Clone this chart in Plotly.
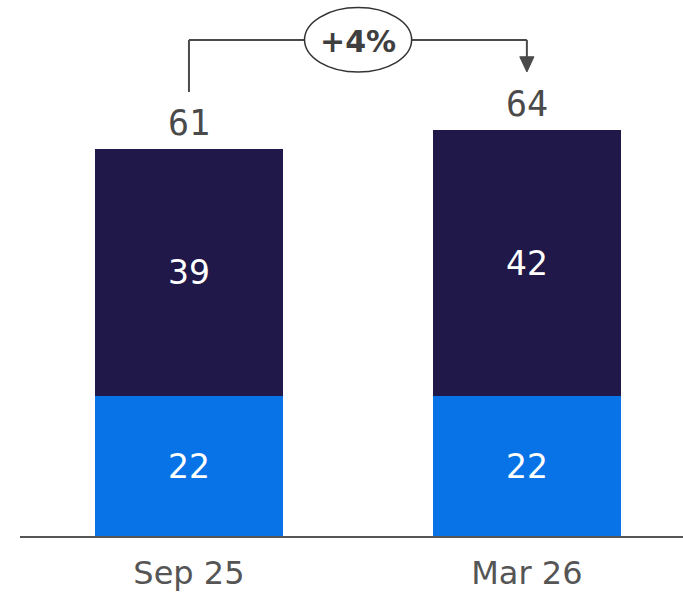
import plotly.graph_objects as go

categories = ["Sep 25", "Mar 26"]
lower_values = [22, 22]
upper_values = [39, 42]
totals = [61, 64]
change_label = "+4%"

navy = "#1F1848"
blue = "#0873E6"
gray = "#4A4A4A"

fig = go.Figure()
fig.add_trace(go.Bar(
    x=categories, y=lower_values, marker=dict(color=blue, line=dict(width=0)),
    text=[str(v) for v in lower_values], textposition="inside", insidetextanchor="middle",
    textangle=0, textfont=dict(family="DejaVu Sans", size=33, color="white"),
    width=0.5547, hoverinfo="skip", cliponaxis=False,
))
fig.add_trace(go.Bar(
    x=categories, y=upper_values, marker=dict(color=navy, line=dict(width=0)),
    text=[str(v) for v in upper_values], textposition="inside", insidetextanchor="middle",
    textangle=0, textfont=dict(family="DejaVu Sans", size=33, color="white"),
    width=0.5547, hoverinfo="skip", cliponaxis=False,
))

for i, t in enumerate(totals):
    fig.add_annotation(x=i, y=t, xref="x", yref="y", text=str(t), showarrow=False,
                       yanchor="bottom", yshift=4,
                       font=dict(family="DejaVu Sans Mono", size=35, color=gray))

# change bracket
bracket_y = max(totals) + 14.2
left_bottom = totals[0] + 9
arrow_tip = totals[1] + 9.15
ell_x0, ell_x1 = 0.342, 0.659
ell_y0, ell_y1 = arrow_tip, bracket_y + 5.1
line = dict(color=gray, width=2)
fig.add_shape(type="line", xref="x", yref="y", x0=0, x1=0, y0=left_bottom, y1=bracket_y, line=line)
fig.add_shape(type="line", xref="x", yref="y", x0=0, x1=ell_x0, y0=bracket_y, y1=bracket_y, line=line)
fig.add_shape(type="line", xref="x", yref="y", x0=ell_x1, x1=1, y0=bracket_y, y1=bracket_y, line=line)
fig.add_shape(type="line", xref="x", yref="y", x0=1, x1=1, y0=bracket_y, y1=arrow_tip + 2, line=line)
fig.add_shape(type="path", xref="x", yref="y",
              path=f"M {1-0.021},{arrow_tip+2.4} L {1+0.021},{arrow_tip+2.4} L 1,{arrow_tip} Z",
              fillcolor=gray, line=dict(color=gray, width=1))
fig.add_shape(type="circle", xref="x", yref="y", x0=ell_x0, x1=ell_x1, y0=ell_y0, y1=ell_y1,
              fillcolor="white", line=dict(color="#333333", width=1.5))
fig.add_annotation(x=0.5, y=(ell_y0 + ell_y1) / 2 - 0.3, xref="x", yref="y", text=f"<b>{change_label}</b>",
                   showarrow=False, font=dict(family="DejaVu Sans", size=30, color="#3F3F3F"))

fig.update_layout(
    barmode="stack", width=683, height=593,
    margin=dict(l=20, r=0, t=0, b=57),
    paper_bgcolor="white", plot_bgcolor="white", showlegend=False,
    xaxis=dict(range=[-0.5, 1.462], showline=True, linecolor="#555555", linewidth=2,
               showgrid=False, zeroline=False, ticks="outside", ticklen=8,
               tickcolor="rgba(0,0,0,0)",
               tickfont=dict(family="DejaVu Sans", size=32, color="#555555")),
    yaxis=dict(range=[0, 84.5], visible=False, showgrid=False, zeroline=False),
)
fig.write_html("out.html")
